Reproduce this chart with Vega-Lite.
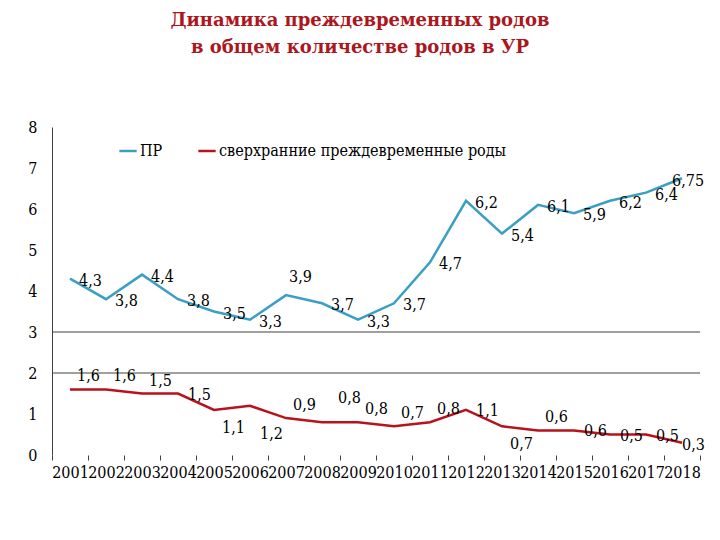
{
  "$schema": "https://vega.github.io/schema/vega-lite/v6.json",
  "width": 648,
  "height": 328,
  "autosize": {"type": "none"},
  "padding": {"left": 52, "top": 127, "right": 20, "bottom": 85},
  "background": "white",
  "title": {
    "text": ["Динамика преждевременных родов", "в общем количестве родов в УР"],
    "font": "DejaVu Serif",
    "fontSize": 18,
    "fontWeight": "bold",
    "color": "#ab171c",
    "anchor": "middle",
    "frame": "group",
    "dx": -16,
    "offset": 62,
    "lineHeight": 27
  },
  "config": {
    "view": {"stroke": null}
  },
  "datasets": {
    "main": [
      {"year": "2001", "series": "ПР", "value": 4.3},
      {"year": "2002", "series": "ПР", "value": 3.8},
      {"year": "2003", "series": "ПР", "value": 4.4},
      {"year": "2004", "series": "ПР", "value": 3.8},
      {"year": "2005", "series": "ПР", "value": 3.5},
      {"year": "2006", "series": "ПР", "value": 3.3},
      {"year": "2007", "series": "ПР", "value": 3.9},
      {"year": "2008", "series": "ПР", "value": 3.7},
      {"year": "2009", "series": "ПР", "value": 3.3},
      {"year": "2010", "series": "ПР", "value": 3.7},
      {"year": "2011", "series": "ПР", "value": 4.7},
      {"year": "2012", "series": "ПР", "value": 6.2},
      {"year": "2013", "series": "ПР", "value": 5.4},
      {"year": "2014", "series": "ПР", "value": 6.1},
      {"year": "2015", "series": "ПР", "value": 5.9},
      {"year": "2016", "series": "ПР", "value": 6.2},
      {"year": "2017", "series": "ПР", "value": 6.4},
      {"year": "2018", "series": "ПР", "value": 6.75},
      {"year": "2001", "series": "сверхранние преждевременные роды", "value": 1.6},
      {"year": "2002", "series": "сверхранние преждевременные роды", "value": 1.6},
      {"year": "2003", "series": "сверхранние преждевременные роды", "value": 1.5},
      {"year": "2004", "series": "сверхранние преждевременные роды", "value": 1.5},
      {"year": "2005", "series": "сверхранние преждевременные роды", "value": 1.1},
      {"year": "2006", "series": "сверхранние преждевременные роды", "value": 1.2},
      {"year": "2007", "series": "сверхранние преждевременные роды", "value": 0.9},
      {"year": "2008", "series": "сверхранние преждевременные роды", "value": 0.8},
      {"year": "2009", "series": "сверхранние преждевременные роды", "value": 0.8},
      {"year": "2010", "series": "сверхранние преждевременные роды", "value": 0.7},
      {"year": "2011", "series": "сверхранние преждевременные роды", "value": 0.8},
      {"year": "2012", "series": "сверхранние преждевременные роды", "value": 1.1},
      {"year": "2013", "series": "сверхранние преждевременные роды", "value": 0.7},
      {"year": "2014", "series": "сверхранние преждевременные роды", "value": 0.6},
      {"year": "2015", "series": "сверхранние преждевременные роды", "value": 0.6},
      {"year": "2016", "series": "сверхранние преждевременные роды", "value": 0.5},
      {"year": "2017", "series": "сверхранние преждевременные роды", "value": 0.5},
      {"year": "2018", "series": "сверхранние преждевременные роды", "value": 0.3}
    ],
    "levels": [{"level": 2}, {"level": 3}]
  },
  "layer": [
    {
      "data": {"name": "main"},
      "mark": {"type": "line", "strokeWidth": 2.5},
      "encoding": {
        "x": {
          "field": "year", "type": "ordinal",
          "scale": {"paddingInner": 0, "paddingOuter": 0},
          "axis": {
            "title": null, "domain": false, "tickBand": "extent", "tickSize": 5, "tickColor": "#404040",
            "labelAngle": 0, "labelFont": "DejaVu Serif Condensed", "labelFontSize": 16, "labelColor": "black",
            "labelPadding": 4, "labelOverlap": false, "labelBound": false, "labelFlush": false
          }
        },
        "y": {
          "field": "value", "type": "quantitative",
          "scale": {"domain": [0, 8], "nice": false},
          "axis": {
            "title": null, "values": [0, 1, 2, 3, 4, 5, 6, 7, 8], "grid": false, "ticks": false,
            "domain": true, "domainColor": "#404040", "labelFont": "DejaVu Serif Condensed", "labelFontSize": 16,
            "labelColor": "black", "labelPadding": 15
          }
        },
        "color": {
          "field": "series", "type": "nominal",
          "scale": {"domain": ["ПР", "сверхранние преждевременные роды"], "range": ["#3a9fc4", "#b8121c"]},
          "legend": {
            "orient": "none", "legendX": 66, "legendY": 14, "direction": "horizontal", "title": null,
            "symbolType": "stroke", "symbolStrokeWidth": 2.5, "symbolSize": 300,
            "labelFont": "DejaVu Serif Condensed", "labelFontSize": 16, "labelColor": "black",
            "labelLimit": 500, "columnPadding": 30, "labelOffset": 2
          }
        }
      }
    },
    {
      "data": {"name": "levels"},
      "mark": {"type": "rule", "color": "#404040", "strokeWidth": 1},
      "encoding": {
        "y": {"field": "level", "type": "quantitative"}
      }
    },
    {
      "data": {"name": "main"},
      "transform": [
        {"calculate": "replace(toString(datum.value), '.', ',')", "as": "label"},
        {"filter": "datum.series == 'ПР' && datum.year != '2007' && datum.year != '2018'"}
      ],
      "mark": {"type": "text", "dx": 9, "dy": 2, "align": "left", "baseline": "middle", "font": "DejaVu Serif Condensed", "fontSize": 16, "color": "black"},
      "encoding": {
        "x": {"field": "year", "type": "ordinal"},
        "y": {"field": "value", "type": "quantitative"},
        "text": {"field": "label"}
      }
    },
    {
      "data": {"name": "main"},
      "transform": [
        {"calculate": "replace(toString(datum.value), '.', ',')", "as": "label"},
        {"filter": "datum.series == 'ПР' && datum.year == '2007'"}
      ],
      "mark": {"type": "text", "dx": 3, "dy": -18, "align": "left", "baseline": "middle", "font": "DejaVu Serif Condensed", "fontSize": 16, "color": "black"},
      "encoding": {
        "x": {"field": "year", "type": "ordinal"},
        "y": {"field": "value", "type": "quantitative"},
        "text": {"field": "label"}
      }
    },
    {
      "data": {"name": "main"},
      "transform": [
        {"calculate": "replace(toString(datum.value), '.', ',')", "as": "label"},
        {"filter": "datum.series == 'ПР' && datum.year == '2018'"}
      ],
      "mark": {"type": "text", "dx": -10, "dy": 3, "align": "left", "baseline": "middle", "font": "DejaVu Serif Condensed", "fontSize": 16, "color": "black"},
      "encoding": {
        "x": {"field": "year", "type": "ordinal"},
        "y": {"field": "value", "type": "quantitative"},
        "text": {"field": "label"}
      }
    },
    {
      "data": {"name": "main"},
      "transform": [
        {"calculate": "replace(toString(datum.value), '.', ',')", "as": "label"},
        {"filter": "datum.series != 'ПР' && indexof(['2004','2012','2015','2016','2017'], datum.year) >= 0"}
      ],
      "mark": {"type": "text", "dx": 10, "dy": 1, "align": "left", "baseline": "middle", "font": "DejaVu Serif Condensed", "fontSize": 16, "color": "black"},
      "encoding": {
        "x": {"field": "year", "type": "ordinal"},
        "y": {"field": "value", "type": "quantitative"},
        "text": {"field": "label"}
      }
    },
    {
      "data": {"name": "main"},
      "transform": [
        {"calculate": "replace(toString(datum.value), '.', ',')", "as": "label"},
        {"filter": "datum.series != 'ПР' && datum.year == '2018'"}
      ],
      "mark": {"type": "text", "dx": 0, "dy": 2, "align": "left", "baseline": "middle", "font": "DejaVu Serif Condensed", "fontSize": 16, "color": "black"},
      "encoding": {
        "x": {"field": "year", "type": "ordinal"},
        "y": {"field": "value", "type": "quantitative"},
        "text": {"field": "label"}
      }
    },
    {
      "data": {"name": "main"},
      "transform": [
        {"calculate": "replace(toString(datum.value), '.', ',')", "as": "label"},
        {"filter": "datum.series != 'ПР' && indexof(['2001','2002','2003','2007','2009','2010','2011','2014'], datum.year) >= 0"}
      ],
      "mark": {"type": "text", "dx": 7, "dy": -13, "align": "left", "baseline": "middle", "font": "DejaVu Serif Condensed", "fontSize": 16, "color": "black"},
      "encoding": {
        "x": {"field": "year", "type": "ordinal"},
        "y": {"field": "value", "type": "quantitative"},
        "text": {"field": "label"}
      }
    },
    {
      "data": {"name": "main"},
      "transform": [
        {"calculate": "replace(toString(datum.value), '.', ',')", "as": "label"},
        {"filter": "datum.series != 'ПР' && datum.year == '2008'"}
      ],
      "mark": {"type": "text", "dx": 16, "dy": -24, "align": "left", "baseline": "middle", "font": "DejaVu Serif Condensed", "fontSize": 16, "color": "black"},
      "encoding": {
        "x": {"field": "year", "type": "ordinal"},
        "y": {"field": "value", "type": "quantitative"},
        "text": {"field": "label"}
      }
    },
    {
      "data": {"name": "main"},
      "transform": [
        {"calculate": "replace(toString(datum.value), '.', ',')", "as": "label"},
        {"filter": "datum.series != 'ПР' && indexof(['2005','2013'], datum.year) >= 0"}
      ],
      "mark": {"type": "text", "dx": 8, "dy": 18, "align": "left", "baseline": "middle", "font": "DejaVu Serif Condensed", "fontSize": 16, "color": "black"},
      "encoding": {
        "x": {"field": "year", "type": "ordinal"},
        "y": {"field": "value", "type": "quantitative"},
        "text": {"field": "label"}
      }
    },
    {
      "data": {"name": "main"},
      "transform": [
        {"calculate": "replace(toString(datum.value), '.', ',')", "as": "label"},
        {"filter": "datum.series != 'ПР' && datum.year == '2006'"}
      ],
      "mark": {"type": "text", "dx": 10, "dy": 28, "align": "left", "baseline": "middle", "font": "DejaVu Serif Condensed", "fontSize": 16, "color": "black"},
      "encoding": {
        "x": {"field": "year", "type": "ordinal"},
        "y": {"field": "value", "type": "quantitative"},
        "text": {"field": "label"}
      }
    }
  ]
}
